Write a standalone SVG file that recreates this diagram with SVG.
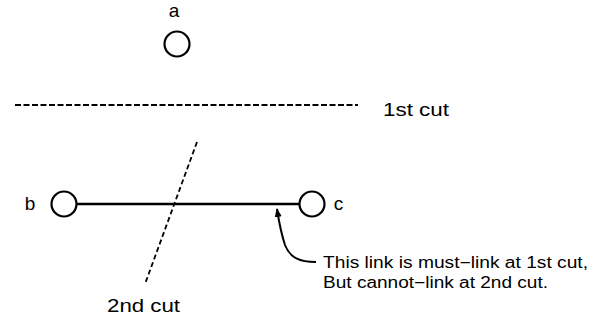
<svg xmlns="http://www.w3.org/2000/svg" width="599" height="320" viewBox="0 0 599 320">
<defs>
<style>
.node{fill:none;stroke:#000;stroke-width:2.2}
.lbl{font-family:"Liberation Sans",Arial,sans-serif;font-size:19px;fill:#000}
.note{font-family:"Liberation Sans",Arial,sans-serif;font-size:16px;fill:#000}
.cutlbl{font-family:"Liberation Sans",Arial,sans-serif;font-size:18px;fill:#000}
.cut{stroke:#000;stroke-width:1.8;fill:none}
</style>
<marker id="ah" markerWidth="9" markerHeight="8" refX="8" refY="4" orient="auto" markerUnits="userSpaceOnUse">
<path d="M0,0.5 L9,4 L0,7.5 z" fill="#000"/>
</marker>
</defs>
<rect width="599" height="320" fill="#fff"/>
<g id="connectors">
<line x1="77" y1="204" x2="299" y2="204" stroke="#000" stroke-width="2.5"/>
<path d="M316,262 C300,262 290,258 285,245 C281,233 279,222 277,209" fill="none" stroke="#000" stroke-width="2" marker-end="url(#ah)"/>
</g>
<g id="cut1">
<line class="cut" x1="15" y1="105" x2="358" y2="105" stroke-dasharray="6,2.5"/>
<text class="cutlbl" x="383" y="116" textLength="66" lengthAdjust="spacingAndGlyphs">1st cut</text>
</g>
<g id="cut2">
<line class="cut" x1="197" y1="142" x2="145" y2="284" stroke-dasharray="5,3"/>
<text class="cutlbl" x="107" y="312" textLength="73" lengthAdjust="spacingAndGlyphs">2nd cut</text>
</g>
<g id="node-a">
<circle class="node" cx="177" cy="44" r="12.5"/>
<text class="lbl" x="174" y="17" text-anchor="middle">a</text>
</g>
<g id="node-b">
<circle class="node" cx="64" cy="204" r="12.5"/>
<text class="lbl" x="30" y="210" text-anchor="middle">b</text>
</g>
<g id="node-c">
<circle class="node" cx="312" cy="204" r="12.5"/>
<text class="lbl" x="338.5" y="210" text-anchor="middle">c</text>
</g>
<g id="note">
<text class="note" x="323" y="268" textLength="265" lengthAdjust="spacingAndGlyphs">This link is must−link at 1st cut,</text>
<text class="note" x="323" y="288" textLength="225" lengthAdjust="spacingAndGlyphs">But cannot−link at 2nd cut.</text>
</g>
</svg>
